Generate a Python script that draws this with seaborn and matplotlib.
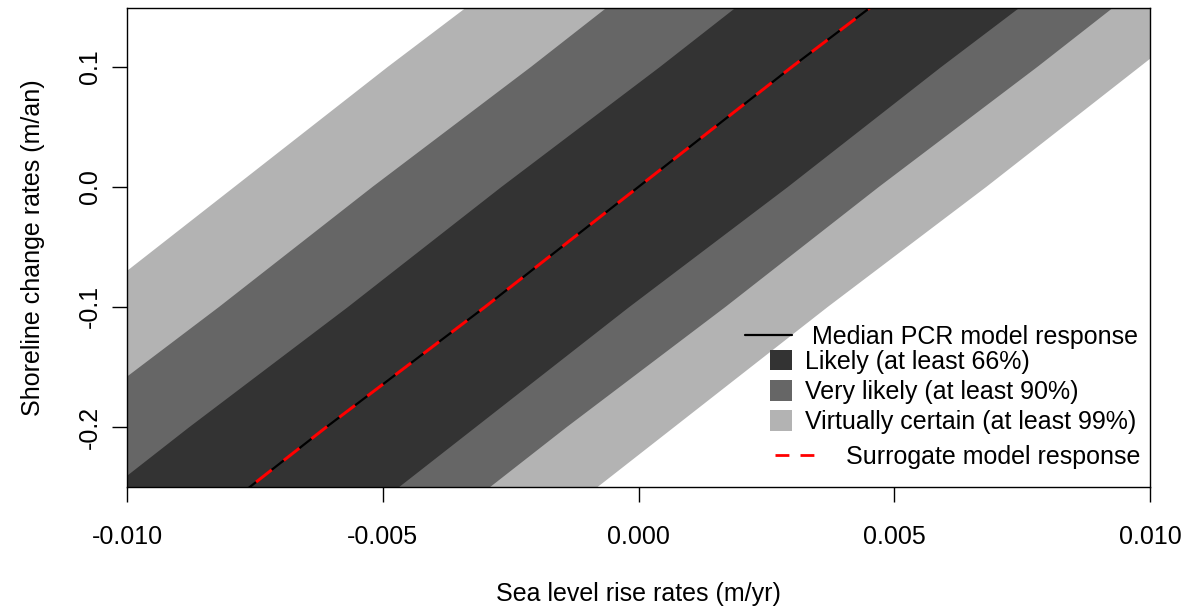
import matplotlib
matplotlib.use("Agg")
import matplotlib.pyplot as plt
from matplotlib.lines import Line2D
from matplotlib.patches import Patch
import seaborn as sns

# ---- data ----
# shoreline change rates (m/an) at which band edges / lines were read
shoreline_rate = [-0.30, -0.20, -0.10, 0.00, 0.10, 0.20]
# sea level rise rate (m/yr) of the median PCR model response
median_slr = [-0.0091, -0.0061, -0.0030, 0.0000, 0.0030, 0.0061]
# surrogate model response
surrogate_slr = [-0.0091, -0.0061, -0.0030, 0.0000, 0.0030, 0.0061]
# band edges (left / right in sea level rise rate)
likely_left = [-0.0118, -0.0088, -0.0057, -0.0027, 0.0004, 0.0034]
likely_right = [-0.0062, -0.0032, -0.0002, 0.0029, 0.0059, 0.0090]
very_likely_left = [-0.0143, -0.0113, -0.0082, -0.0052, -0.0021, 0.0009]
very_likely_right = [-0.0044, -0.0014, 0.0017, 0.0047, 0.0078, 0.0108]
virtually_left = [-0.0170, -0.0140, -0.0109, -0.0079, -0.0049, -0.0018]
virtually_right = [-0.0023, 0.0007, 0.0037, 0.0068, 0.0098, 0.0128]

x_ticks = [-0.010, -0.005, 0.000, 0.005, 0.010]
x_tick_labels = ["-0.010", "-0.005", "0.000", "0.005", "0.010"]
y_ticks = [-0.2, -0.1, 0.0, 0.1]
y_tick_labels = ["-0.2", "-0.1", "0.0", "0.1"]

labels = ["Median PCR model response", "Likely (at least 66%)",
          "Very likely (at least 90%)", "Virtually certain (at least 99%)",
          "Surrogate model response"]

sns.set_theme(style="white")
plt.rcParams["font.family"] = ["Liberation Sans", "DejaVu Sans"]
plt.rcParams["text.color"] = "black"
plt.rcParams["axes.labelcolor"] = "black"
plt.rcParams["xtick.color"] = "black"
plt.rcParams["ytick.color"] = "black"

FS = 18
c_dark, c_mid, c_light = "#333333", "#666666", "#B3B3B3"

fig = plt.figure(figsize=(11.91, 6.10), dpi=100)
ax = fig.add_axes([127 / 1191, 1 - 487 / 610, 1023 / 1191, 479 / 610])

ax.fill_betweenx(shoreline_rate, virtually_left, virtually_right, color=c_light, lw=0)
ax.fill_betweenx(shoreline_rate, very_likely_left, very_likely_right, color=c_mid, lw=0)
ax.fill_betweenx(shoreline_rate, likely_left, likely_right, color=c_dark, lw=0)

sns.lineplot(x=median_slr, y=shoreline_rate, color="black", lw=1.6, ax=ax,
             sort=False, estimator=None)
sns.lineplot(x=surrogate_slr, y=shoreline_rate, color="red", lw=2.2, ax=ax,
             sort=False, estimator=None)
ax.lines[-1].set_linestyle((0, (6.5, 5)))

ax.set_xlim(-0.010, 0.010)
ax.set_ylim(-0.25, 0.149)
ax.set_xticks(x_ticks)
ax.set_xticklabels(x_tick_labels, fontsize=FS)
ax.set_yticks(y_ticks)
ax.set_yticklabels(y_tick_labels, fontsize=FS, rotation=90, va="center")
ax.tick_params(axis="both", direction="out", length=10.8, width=1.0, color="black",
               labelcolor="black", bottom=True, left=True)
ax.tick_params(axis="x", pad=16.5)
ax.tick_params(axis="y", pad=7)
for s in ax.spines.values():
    s.set_color("black")
    s.set_linewidth(1.0)
    s.set_visible(True)

ax.set_xlabel("Sea level rise rates (m/yr)", fontsize=FS, labelpad=24, color="black")
ax.set_ylabel("Shoreline change rates (m/an)", fontsize=FS, labelpad=24, color="black")

def fx(px):
    return (px - 127) / 1023

def fy(py):
    return (487 - py) / 479

fs_px = FS * 100 / 72

legA = ax.legend(handles=[Line2D([], [], color="black", lw=1.6)], labels=[labels[0]],
                 loc="center left", bbox_to_anchor=(fx(745), fy(337)), frameon=False,
                 fontsize=FS, borderpad=0, borderaxespad=0, labelcolor="black",
                 handlelength=47 / fs_px, handletextpad=20 / fs_px)
ax.add_artist(legA)

legB = ax.legend(handles=[Patch(color=c_dark, lw=0), Patch(color=c_mid, lw=0),
                          Patch(color=c_light, lw=0)],
                 labels=labels[1:4], loc="center left",
                 bbox_to_anchor=(fx(770), fy(392)), frameon=False, fontsize=FS,
                 borderpad=0, borderaxespad=0, handlelength=22 / fs_px, labelcolor="black",
                 handleheight=22 / fs_px, handletextpad=13 / fs_px, labelspacing=0.25)
ax.add_artist(legB)

legC = ax.legend(handles=[Line2D([], [], color="red", lw=2.0, linestyle=(0, (5, 4)))],
                 labels=[labels[4]], loc="center left",
                 bbox_to_anchor=(fx(775), fy(457)), frameon=False, fontsize=FS,
                 borderpad=0, borderaxespad=0, handlelength=47 / fs_px, labelcolor="black",
                 handletextpad=24 / fs_px)

fig.savefig("out.png", dpi=100)
